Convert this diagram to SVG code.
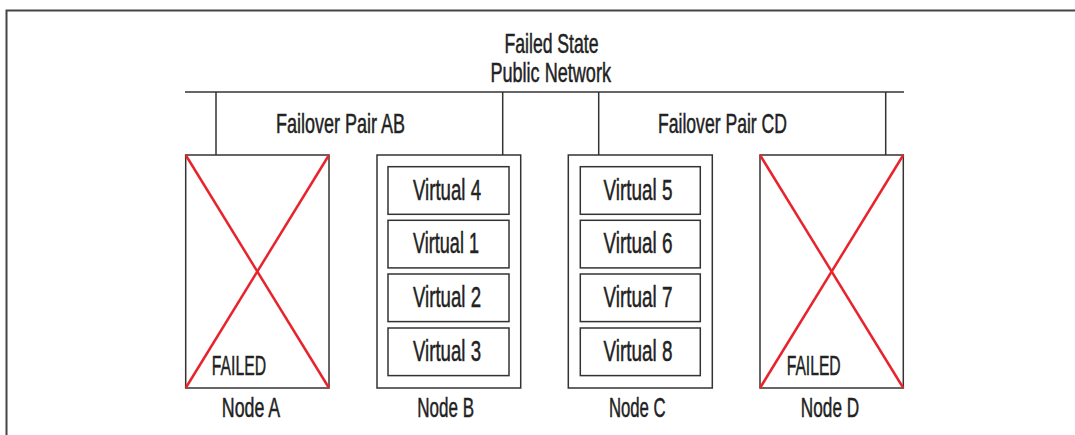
<svg xmlns="http://www.w3.org/2000/svg" width="1075" height="435" viewBox="0 0 1075 435">
<style>
.ln{stroke:#333;stroke-width:1.5;fill:none}
.box{stroke:#333;stroke-width:1.5;fill:#fff}
.x{stroke:#e8232b;stroke-width:2.5}
text{font-family:"Liberation Sans",Arial,sans-serif;fill:#222;text-anchor:middle;stroke:#222;stroke-width:0.5}
.lbl{font-size:27.5px}
.v{font-size:29px}
</style>
<rect width="1075" height="435" fill="#fff"/>
<path d="M6.5,435 V10.5 H1075" stroke="#444" stroke-width="2" fill="none"/>
<g id="network">
<text class="lbl" x="551.5" y="52.7" textLength="94" lengthAdjust="spacingAndGlyphs">Failed State</text>
<text class="lbl" x="550.7" y="81.7" textLength="120.6" lengthAdjust="spacingAndGlyphs">Public Network</text>
</g>
<g id="connectors">
<line class="ln" x1="185" y1="92" x2="904" y2="92"/>
<line class="ln" x1="216" y1="92" x2="216" y2="155"/>
<line class="ln" x1="502.7" y1="92" x2="502.7" y2="155"/>
<line class="ln" x1="598.7" y1="92" x2="598.7" y2="155"/>
<line class="ln" x1="885.7" y1="92" x2="885.7" y2="155"/>
</g>
<g id="pairAB"><text class="lbl" x="340.5" y="132.7" textLength="129" lengthAdjust="spacingAndGlyphs">Failover Pair AB</text></g>
<g id="pairCD"><text class="lbl" x="722.5" y="132.7" textLength="129" lengthAdjust="spacingAndGlyphs">Failover Pair CD</text></g>
<g id="nodeA">
<rect class="box" x="185.7" y="155" width="143.3" height="233"/>
<line class="x" x1="185.7" y1="155" x2="329" y2="388"/>
<line class="x" x1="329" y1="155" x2="185.7" y2="388"/>
<text class="lbl" x="239" y="375" textLength="54.3" lengthAdjust="spacingAndGlyphs">FAILED</text>
<text class="lbl" x="251" y="417.3" textLength="58.3" lengthAdjust="spacingAndGlyphs">Node A</text>
</g>
<g id="nodeB">
<rect class="box" x="377" y="155" width="143.7" height="233"/>
<text class="lbl" x="445.7" y="417.3" textLength="56.7" lengthAdjust="spacingAndGlyphs">Node B</text>
</g>
<g id="virtual4"><rect class="box" x="388" y="166.7" width="121" height="47.6"/><text class="v" x="447" y="200" textLength="68" lengthAdjust="spacingAndGlyphs">Virtual 4</text></g>
<g id="virtual1"><rect class="box" x="388" y="220.3" width="121" height="47.6"/><text class="v" x="446" y="253.3" textLength="66" lengthAdjust="spacingAndGlyphs">Virtual 1</text></g>
<g id="virtual2"><rect class="box" x="388" y="274" width="121" height="47.6"/><text class="v" x="447" y="307" textLength="68" lengthAdjust="spacingAndGlyphs">Virtual 2</text></g>
<g id="virtual3"><rect class="box" x="388" y="328" width="121" height="47.6"/><text class="v" x="447" y="360.8" textLength="68" lengthAdjust="spacingAndGlyphs">Virtual 3</text></g>
<g id="nodeC">
<rect class="box" x="568.3" y="155" width="144" height="233"/>
<text class="lbl" x="637.3" y="417.3" textLength="56.7" lengthAdjust="spacingAndGlyphs">Node C</text>
</g>
<g id="virtual5"><rect class="box" x="580.3" y="166.7" width="120" height="47.6"/><text class="v" x="638" y="200" textLength="69" lengthAdjust="spacingAndGlyphs">Virtual 5</text></g>
<g id="virtual6"><rect class="box" x="580.3" y="220.3" width="120" height="47.6"/><text class="v" x="638" y="253.3" textLength="69" lengthAdjust="spacingAndGlyphs">Virtual 6</text></g>
<g id="virtual7"><rect class="box" x="580.3" y="274" width="120" height="47.6"/><text class="v" x="638" y="307" textLength="69" lengthAdjust="spacingAndGlyphs">Virtual 7</text></g>
<g id="virtual8"><rect class="box" x="580.3" y="328" width="120" height="47.6"/><text class="v" x="638" y="360.8" textLength="69" lengthAdjust="spacingAndGlyphs">Virtual 8</text></g>
<g id="nodeD">
<rect class="box" x="760" y="155" width="143.3" height="233"/>
<line class="x" x1="760" y1="155" x2="903.3" y2="388"/>
<line class="x" x1="903.3" y1="155" x2="760" y2="388"/>
<text class="lbl" x="813.7" y="375" textLength="54" lengthAdjust="spacingAndGlyphs">FAILED</text>
<text class="lbl" x="830" y="417.3" textLength="58.3" lengthAdjust="spacingAndGlyphs">Node D</text>
</g>
</svg>
